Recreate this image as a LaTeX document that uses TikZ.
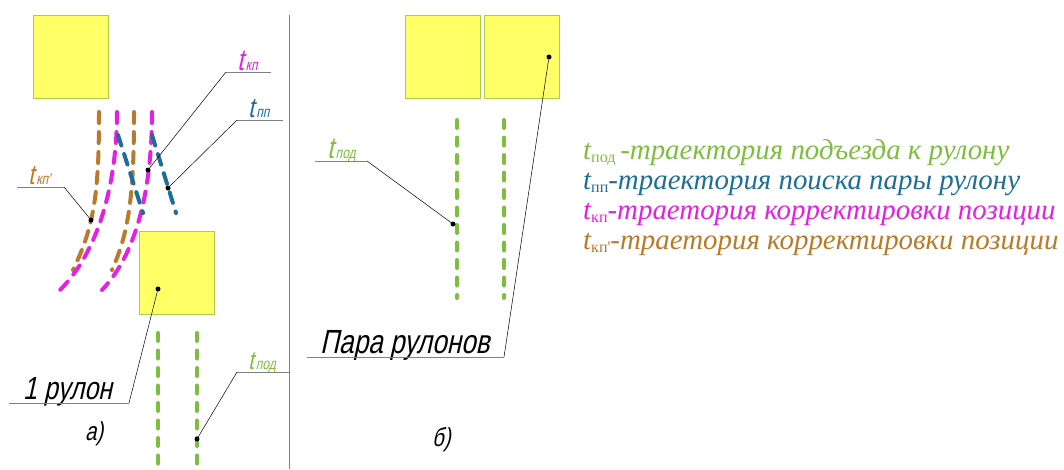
\documentclass[tikz,border=0pt]{standalone}
\usepackage{fontspec}
\setmainfont{Liberation Serif}
\newfontfamily\legfont{Liberation Serif Italic}
\newfontfamily\legup{Liberation Serif}
\newfontfamily\isofont[FakeStretch=0.78,FakeSlant=0.22]{Liberation Sans}
\definecolor{cgreen}{HTML}{7DBE3C}
\definecolor{cblue}{HTML}{1E6E98}
\definecolor{cmag}{HTML}{E61EE6}
\definecolor{cbrown}{HTML}{B97A2A}
\definecolor{cyel}{HTML}{FFFF66}
\definecolor{cedge}{HTML}{A6CF4A}
\definecolor{cgray}{HTML}{808080}
\newcommand{\lsub}[1]{\raisebox{-3pt}{\legup\fontsize{16}{16}\selectfont #1}}
\newcommand{\isosub}[2]{\fontsize{#1}{#1}\selectfont t\kern2pt\fontsize{15.5}{15.5}\selectfont #2}
\begin{document}
\begin{tikzpicture}[x=1pt,y=-1pt,
  roll/.style={draw=cedge, fill=cyel, line width=0.8pt, minimum width=75pt, minimum height=83pt, inner sep=0pt, anchor=north west},
  traj/.style={line width=4pt, line cap=round, dash pattern=on 11pt off 9pt},
  gtraj/.style={cgreen, line width=4pt, line cap=round, dash pattern=on 8pt off 9.5pt},
  leader/.style={black, line width=0.5pt},
  uline/.style={cgray, line width=0.8pt},
  dot/.style={circle, fill=black, inner sep=0pt, minimum size=5pt},
  iso/.style={font=\isofont, inner sep=0pt, anchor=base west},
  legend/.style={font=\legfont\fontsize{28.9}{28.9}\selectfont, inner sep=0pt, anchor=base west}
]
\useasboundingbox (0,0) rectangle (1064,469);

% divider
\draw[uline] (289,15) -- (289,469);

% rolls
\node[roll] (r1) at (33,15) {};
\node[roll] (r2) at (139,231) {};
\node[roll] (r3) at (405,15) {};
\node[roll] (r4) at (484,15) {};

% trajectories, panel a
\draw[traj, cbrown] (99,112) .. controls (99,190) and (95,225) .. (73,270);
\draw[traj, cbrown] (134,112) .. controls (134,190) and (130,230) .. (112,270);
\draw[traj, cmag] (117,112) .. controls (117,180) and (100,250) .. (60,290);
\draw[traj, cmag] (152,112) .. controls (152,180) and (140,250) .. (102,290);
\draw[traj, cblue] (118,135) -- (143,213);
\draw[traj, cblue] (152,135) -- (176,213);
\draw[gtraj] (158,333) -- (158,475);
\draw[gtraj] (197,333) -- (197,475);

% trajectories, panel b
\draw[gtraj] (457,120) -- (457,298);
\draw[gtraj] (504,120) -- (504,298);

% dots
\node[dot] (dkp) at (148,170) {};
\node[dot] (dpp) at (168,188) {};
\node[dot] (dkp2) at (91,220) {};
\node[dot] (dr2) at (158,289) {};
\node[dot] (dpod1) at (197,439) {};
\node[dot] (dpod2) at (453,224) {};
\node[dot] (dr4) at (549,57) {};

% labels panel a
\node[iso, cmag] (lkp) at (237,70) {\isosub{30}{кп}};
\coordinate (ukp1) at (226,72); \coordinate (ukp2) at (271,72);
\draw[uline] (ukp1) -- (ukp2);
\draw[leader] (ukp1) -- (dkp);

\node[iso, cblue] (lpp) at (248,117) {\isosub{28}{пп}};
\coordinate (upp1) at (237,120); \coordinate (upp2) at (283,120);
\draw[uline] (upp1) -- (upp2);
\draw[leader] (upp1) -- (dpp);

\node[iso, cbrown] (lkp2) at (28,184) {\isosub{28}{кп'}};
\coordinate (ukq1) at (17,187); \coordinate (ukq2) at (64,187);
\draw[uline] (ukq1) -- (ukq2);
\draw[leader] (ukq2) -- (dkp2);

\node[iso, cgreen] (lpod1) at (248,369) {\isosub{26}{под}};
\coordinate (upd1) at (237,372);
\draw[uline] (upd1) -- (289,372);
\draw[leader] (upd1) -- (dpod1);

\node[iso] (l1r) at (23,399) {\fontsize{32}{32}\selectfont 1 рулон};
\coordinate (u1r1) at (9,403); \coordinate (u1r2) at (129,403);
\draw[uline] (u1r1) -- (u1r2);
\draw[leader] (u1r2) -- (dr2);

\node[iso] (la) at (85,440) {\fontsize{26}{26}\selectfont а)};

% labels panel b
\node[iso, cgreen] (lpod2) at (327,158) {\isosub{30}{под}};
\coordinate (upd21) at (315,161); \coordinate (upd22) at (367,161);
\draw[uline] (upd21) -- (upd22);
\draw[leader] (upd22) -- (dpod2);

\node[iso] (lpara) at (320,353) {\fontsize{33.5}{33.5}\selectfont Пара рулонов};
\coordinate (upa1) at (307,357); \coordinate (upa2) at (504,357);
\draw[uline] (upa1) -- (upa2);
\draw[leader] (upa2) -- (dr4);

\node[iso] (lb) at (432,446) {\fontsize{26}{26}\selectfont б)};

% legend
\node[legend, cgreen] (g1) at (583,159) {t\lsub{под}\,-траектория подъезда к рулону};
\node[legend, cblue] (g2) at (583,189) {t\lsub{пп}-траектория поиска пары рулону};
\node[legend, cmag] (g3) at (583,219) {t\lsub{кп}-траетория корректировки позиции};
\node[legend, cbrown] (g4) at (583,249) {t\lsub{кп'}-траетория корректировки позиции};
\end{tikzpicture}
\end{document}
